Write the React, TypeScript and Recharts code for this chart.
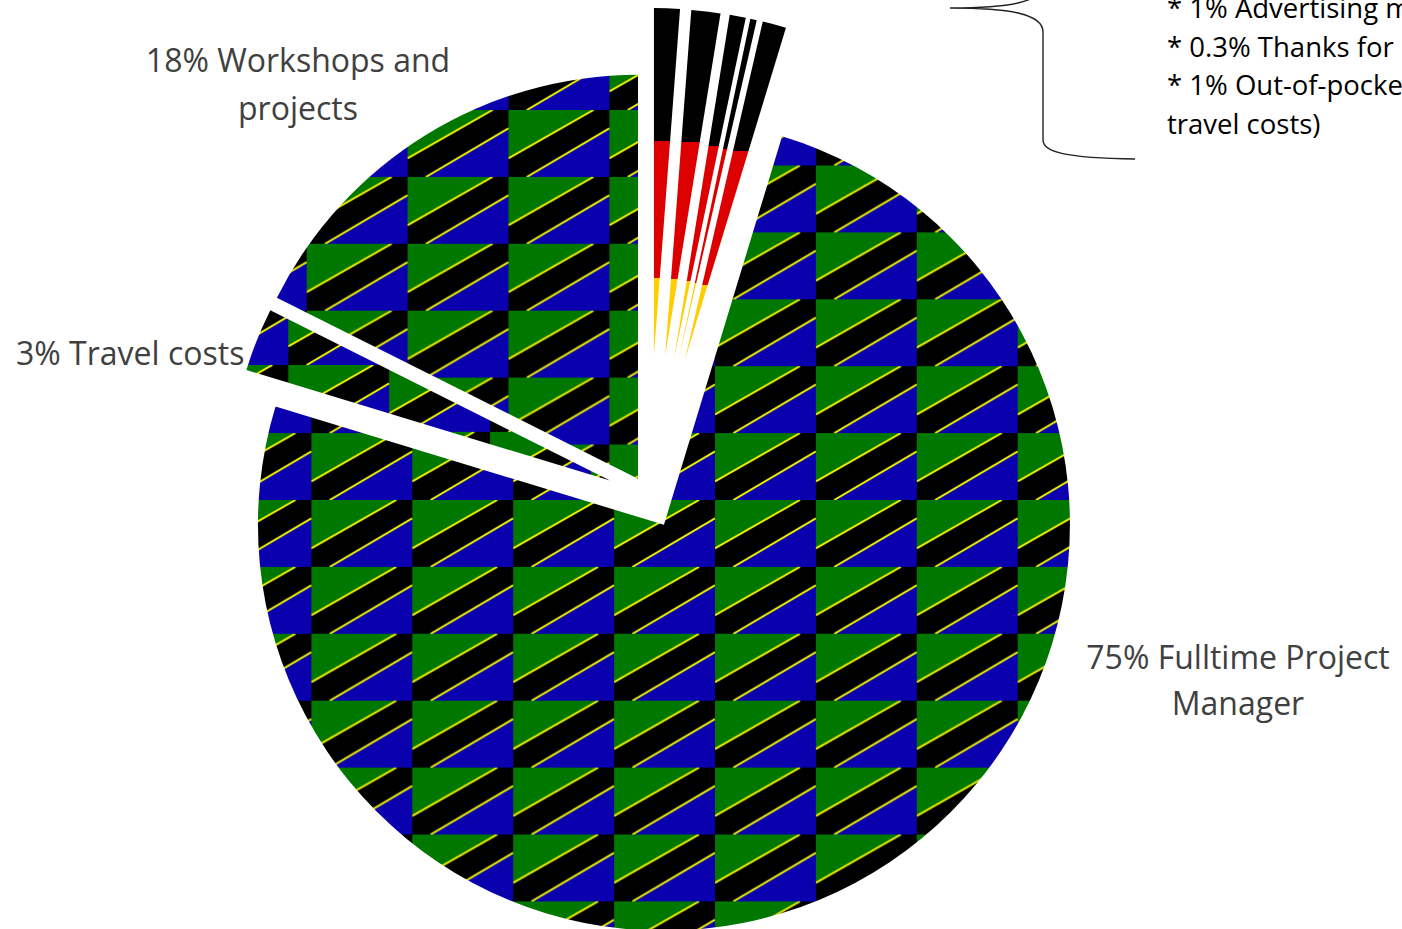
import React from 'react';
import { PieChart, Pie, Cell } from 'recharts';

// slices in clockwise order, starting at 12 o'clock
const sliceNames = [
  'Other cost 1',
  'Other cost 2',
  'Advertising material',
  'Thanks for helpers',
  'Out-of-pocket expenses',
  'Fulltime Project Manager',
  'Travel costs',
  'Workshops and projects',
];
const sliceValues = [1.2, 1.35, 0.75, 0.3, 1.1, 75, 2.7, 17.6];

const workshopLabel = ['18% Workshops and', 'projects'];
const travelLabel = ['3% Travel costs'];
const managerLabel = ['75% Fulltime Project', 'Manager'];
const otherLines = ['* 1% Advertising material', '* 0.3% Thanks for', '* 1% Out-of-pocket', 'travel costs)'];

// look of each slice (fill, how far it is pulled out, its radius)
const sliceStyle = [
  { fill: 'url(#deFlag)', explode: 141, radius: 347 },
  { fill: 'url(#deFlag)', explode: 141, radius: 347 },
  { fill: 'url(#deFlag)', explode: 141, radius: 347 },
  { fill: 'url(#deFlag)', explode: 141, radius: 347 },
  { fill: 'url(#deFlag)', explode: 141, radius: 347 },
  { fill: 'url(#tzMain)', explode: 32.6, radius: 406 },
  { fill: 'url(#tzTravel)', explode: 41.6, radius: 380 },
  { fill: 'url(#tzWorkshops)', explode: 20.2, radius: 404 },
];

const W = 1402;
const H = 929;
const CENTER = { x: 648.6, y: 496 };
const TILE_W = 100.9;
const TILE_H = 66.9;

const data = sliceNames.map((name, i) => ({ name, value: sliceValues[i] }));
const total = sliceValues.reduce((a, b) => a + b, 0);
const midAngles = sliceValues.map((v, i) => {
  const before = sliceValues.slice(0, i).reduce((a, b) => a + b, 0);
  return ((before + v / 2) / total) * 360;
});

const FlagTile = ({ id, x, y }: { id: string; x: number; y: number }) => (
  <pattern id={id} patternUnits="userSpaceOnUse" x={x} y={y} width={TILE_W} height={TILE_H}>
    <rect width={TILE_W} height={TILE_H} fill="#000" />
    <polygon points={`0,0 85,0 0,48.3`} fill="#007800" />
    <polygon points={`18.3,${TILE_H} ${TILE_W},${TILE_H} ${TILE_W},18.3`} fill="#0a00ae" />
    <line x1={0} y1={48.3} x2={85} y2={0} stroke="#f2f200" strokeWidth={2} />
    <line x1={18.3} y1={TILE_H} x2={TILE_W} y2={18.3} stroke="#f2f200" strokeWidth={2} />
  </pattern>
);

const labelFont = "'Open Sans', sans-serif";

export default function App() {
  return (
    <div style={{ position: 'absolute', left: 0, top: 0, width: W, height: H, overflow: 'hidden', background: '#fff' }}>
      <svg width={0} height={0} style={{ position: 'absolute' }}>
        <defs>
          <FlagTile id="tzMain" x={715} y={500} />
          <FlagTile id="tzWorkshops" x={508.5} y={110} />
          <FlagTile id="tzTravel" x={288.3} y={365} />
          <linearGradient id="deFlag" x1="0" y1="0" x2="0" y2="1">
            <stop offset="0.383" stopColor="#000" />
            <stop offset="0.383" stopColor="#dd0000" />
            <stop offset="0.778" stopColor="#dd0000" />
            <stop offset="0.778" stopColor="#ffce00" />
          </linearGradient>
        </defs>
      </svg>

      <PieChart width={W} height={H} margin={{ top: 0, right: 0, bottom: 0, left: 0 }}>
        {sliceStyle.map((s, i) => {
          const rad = (midAngles[i] * Math.PI) / 180;
          return (
            <Pie
              key={sliceNames[i]}
              data={data}
              dataKey="value"
              nameKey="name"
              cx={CENTER.x + s.explode * Math.sin(rad)}
              cy={CENTER.y - s.explode * Math.cos(rad)}
              innerRadius={0}
              outerRadius={s.radius}
              startAngle={90}
              endAngle={-270}
              stroke="none"
              isAnimationActive={false}
            >
              {data.map((d, j) => (
                <Cell key={d.name} fill={j === i ? s.fill : 'none'} stroke="none" />
              ))}
            </Pie>
          );
        })}
      </PieChart>

      <svg width={W} height={H} style={{ position: 'absolute', left: 0, top: 0, pointerEvents: 'none' }}>
        <g fontFamily={labelFont} fontSize={32} fill="#404040">
          {workshopLabel.map((t, i) => (
            <text key={t} x={298} y={72 + i * 48} textAnchor="middle">{t}</text>
          ))}
          {travelLabel.map((t) => (
            <text key={t} x={16} y={365}>{t}</text>
          ))}
          {managerLabel.map((t, i) => (
            <text key={t} x={1238} y={669 + i * 46} textAnchor="middle">{t}</text>
          ))}
        </g>
        <g fontFamily={labelFont} fontSize={27.5} fill="#000">
          {otherLines.map((t, i) => (
            <text key={t} x={1167} y={18 + i * 38.6}>{t}</text>
          ))}
        </g>
        <path
          d="M1135,-143 C1065,-142 1043,-136 1043,-124 L1043,-16 C1043,2 1010,8 950,8 C1010,8 1043,14 1043,32 L1043,140 C1043,152 1065,158 1135,159"
          fill="none"
          stroke="#222"
          strokeWidth={1.4}
        />
      </svg>
    </div>
  );
}
